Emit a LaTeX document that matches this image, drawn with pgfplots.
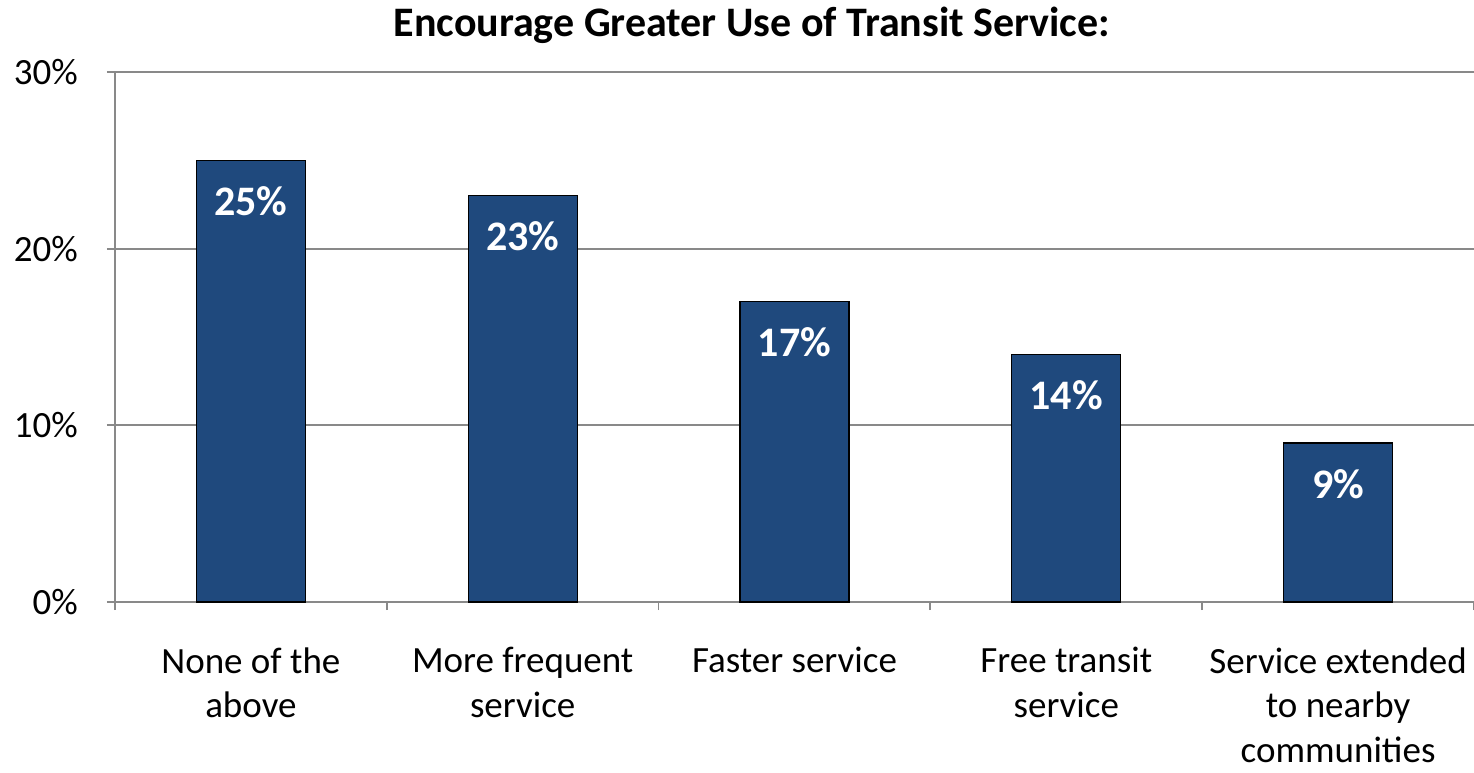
\documentclass[border=0pt]{standalone}
\usepackage{fontspec}
\setmainfont{Carlito}
\usepackage{pgfplots}
\pgfplotsset{compat=1.18}
\definecolor{barblue}{RGB}{31,73,125}
\definecolor{axgray}{RGB}{137,137,137}

\begin{document}
\begin{tikzpicture}
% fixed frame: 1px = 0.5pt
\useasboundingbox (-57.5pt,-85pt) rectangle (679.5pt,301pt);
\begin{axis}[
  scale only axis,
  width=679.5pt, height=265pt,
  at={(0pt,0pt)}, anchor=south west,
  xmin=-0.5, xmax=4.5,
  ymin=0, ymax=30,
  axis lines*=left,
  axis line style={axgray, line width=0.9pt},
  ymajorgrids,
  grid style={axgray, line width=0.9pt},
  tick align=outside,
  major tick length=4pt,
  minor tick length=4pt,
  tick style={axgray, line width=0.9pt},
  ytick={0,10,20,30},
  yticklabel={\pgfmathprintnumber{\tick}\%},
  /pgf/number format/assume math mode=true,
  yticklabel style={font=\fontsize{18.5}{22}\selectfont, xshift=-11pt},
  xtick={0,1,2,3,4},
  major x tick style={draw=none},
  minor xtick={-0.5,0.5,1.5,2.5,3.5,4.5},
  xticklabels={{None of the\\above},{More frequent\\service},{Faster service},{Free transit\\service},{Service extended\\to nearby\\communities}},
  xticklabel style={align=center, anchor=north, inner sep=0pt, yshift=-18.5pt, font=\fontsize{18.5}{22.4}\selectfont},
  clip=false,
]
\addplot[ybar, bar width=54.5pt, fill=barblue, draw=black, line width=0.6pt,
  nodes near coords={\pgfmathprintnumber{\pgfplotspointmeta}\%},
  nodes near coords align={below},
  every node near coord/.append style={text=white, anchor=north, yshift=-9.5pt,
    font=\bfseries\fontsize{21}{25}\selectfont}]
coordinates {(0,25) (1,23) (2,17) (3,14) (4,9)};
\end{axis}
\node[font=\bfseries\fontsize{21}{25}\selectfont] at (318.5pt,288.5pt) {Encourage Greater Use of Transit Service:};
\end{tikzpicture}
\end{document}
